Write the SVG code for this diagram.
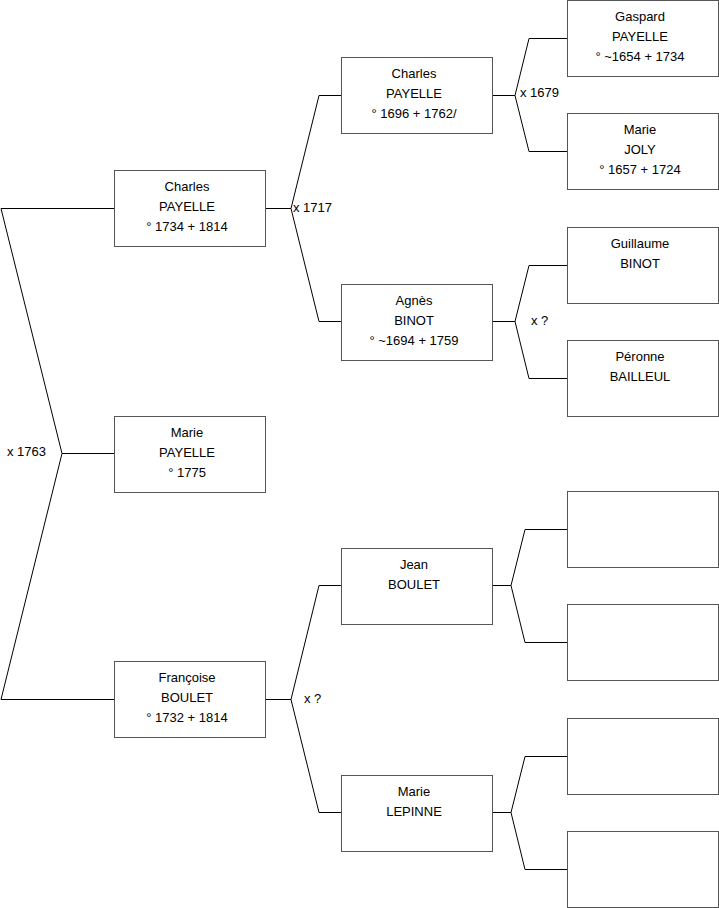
<svg xmlns="http://www.w3.org/2000/svg" width="719" height="908" viewBox="0 0 719 908">
<style>
.box{fill:#fff;stroke:#555;stroke-width:1}
.t{font-family:"Liberation Sans",Arial,sans-serif;font-size:13px;fill:#000;text-anchor:middle}
.l{font-family:"Liberation Sans",Arial,sans-serif;font-size:13px;fill:#000}
.c{fill:none;stroke:#000;stroke-width:1}
</style>
<rect width="719" height="908" fill="#fff"/>
<g id="connectors">
<polyline class="c" points="114,208.5 1,208.5 62,453.5 1,699.5 114,699.5"/>
<line class="c" x1="62" y1="453.5" x2="114" y2="453.5"/>
<polyline class="c" points="341,95.5 319,95.5 291,208.5 319,321.5 341,321.5"/>
<line class="c" x1="265" y1="208.5" x2="291" y2="208.5"/>
<polyline class="c" points="341,585.5 319,585.5 291,699.5 319,812.5 341,812.5"/>
<line class="c" x1="265" y1="699.5" x2="291" y2="699.5"/>
<polyline class="c" points="567,38.5 529,38.5 515,95.5 529,151.5 567,151.5"/>
<line class="c" x1="492" y1="95.5" x2="515" y2="95.5"/>
<polyline class="c" points="567,265.5 529,265.5 515,321.5 529,378.5 567,378.5"/>
<line class="c" x1="492" y1="321.5" x2="515" y2="321.5"/>
<polyline class="c" points="567,529.5 525,529.5 511,585.5 525,642.5 567,642.5"/>
<line class="c" x1="492" y1="585.5" x2="511" y2="585.5"/>
<polyline class="c" points="567,756.5 525,756.5 511,812.5 525,869.5 567,869.5"/>
<line class="c" x1="492" y1="812.5" x2="511" y2="812.5"/>
<text class="l" x="7" y="456">x 1763</text>
<text class="l" x="293" y="212">x 1717</text>
<text class="l" x="520" y="97">x 1679</text>
<text class="l" x="531" y="325">x ?</text>
<text class="l" x="304" y="703">x ?</text>
</g>
<g id="n-charles-1734">
<rect class="box" x="114.5" y="170.5" width="151" height="76"/>
<text class="t" x="187" y="191">Charles</text>
<text class="t" x="187" y="211">PAYELLE</text>
<text class="t" x="187" y="231">° 1734 + 1814</text>
</g>
<g id="n-marie-payelle">
<rect class="box" x="114.5" y="416.5" width="151" height="76"/>
<text class="t" x="187" y="437">Marie</text>
<text class="t" x="187" y="457">PAYELLE</text>
<text class="t" x="187" y="477">° 1775</text>
</g>
<g id="n-francoise-boulet">
<rect class="box" x="114.5" y="661.5" width="151" height="76"/>
<text class="t" x="187" y="682">Françoise</text>
<text class="t" x="187" y="702">BOULET</text>
<text class="t" x="187" y="722">° 1732 + 1814</text>
</g>
<g id="n-charles-1696">
<rect class="box" x="341.5" y="57.5" width="151" height="76"/>
<text class="t" x="414" y="78">Charles</text>
<text class="t" x="414" y="98">PAYELLE</text>
<text class="t" x="414" y="118">° 1696 + 1762/</text>
</g>
<g id="n-agnes-binot">
<rect class="box" x="341.5" y="284.5" width="151" height="76"/>
<text class="t" x="414" y="305">Agnès</text>
<text class="t" x="414" y="325">BINOT</text>
<text class="t" x="414" y="345">° ~1694 + 1759</text>
</g>
<g id="n-jean-boulet">
<rect class="box" x="341.5" y="548.5" width="151" height="76"/>
<text class="t" x="414" y="569">Jean</text>
<text class="t" x="414" y="589">BOULET</text>
</g>
<g id="n-marie-lepinne">
<rect class="box" x="341.5" y="775.5" width="151" height="76"/>
<text class="t" x="414" y="796">Marie</text>
<text class="t" x="414" y="816">LEPINNE</text>
</g>
<g id="n-gaspard">
<rect class="box" x="567.5" y="0.5" width="151" height="76"/>
<text class="t" x="640" y="21">Gaspard</text>
<text class="t" x="640" y="41">PAYELLE</text>
<text class="t" x="640" y="61">° ~1654 + 1734</text>
</g>
<g id="n-marie-joly">
<rect class="box" x="567.5" y="113.5" width="151" height="76"/>
<text class="t" x="640" y="134">Marie</text>
<text class="t" x="640" y="154">JOLY</text>
<text class="t" x="640" y="174">° 1657 + 1724</text>
</g>
<g id="n-guillaume-binot">
<rect class="box" x="567.5" y="227.5" width="151" height="76"/>
<text class="t" x="640" y="248">Guillaume</text>
<text class="t" x="640" y="268">BINOT</text>
</g>
<g id="n-peronne-bailleul">
<rect class="box" x="567.5" y="340.5" width="151" height="76"/>
<text class="t" x="640" y="361">Péronne</text>
<text class="t" x="640" y="381">BAILLEUL</text>
</g>
<g id="n-empty-1"><rect class="box" x="567.5" y="491.5" width="151" height="76"/></g>
<g id="n-empty-2"><rect class="box" x="567.5" y="604.5" width="151" height="76"/></g>
<g id="n-empty-3"><rect class="box" x="567.5" y="718.5" width="151" height="76"/></g>
<g id="n-empty-4"><rect class="box" x="567.5" y="831.5" width="151" height="76"/></g>
</svg>
